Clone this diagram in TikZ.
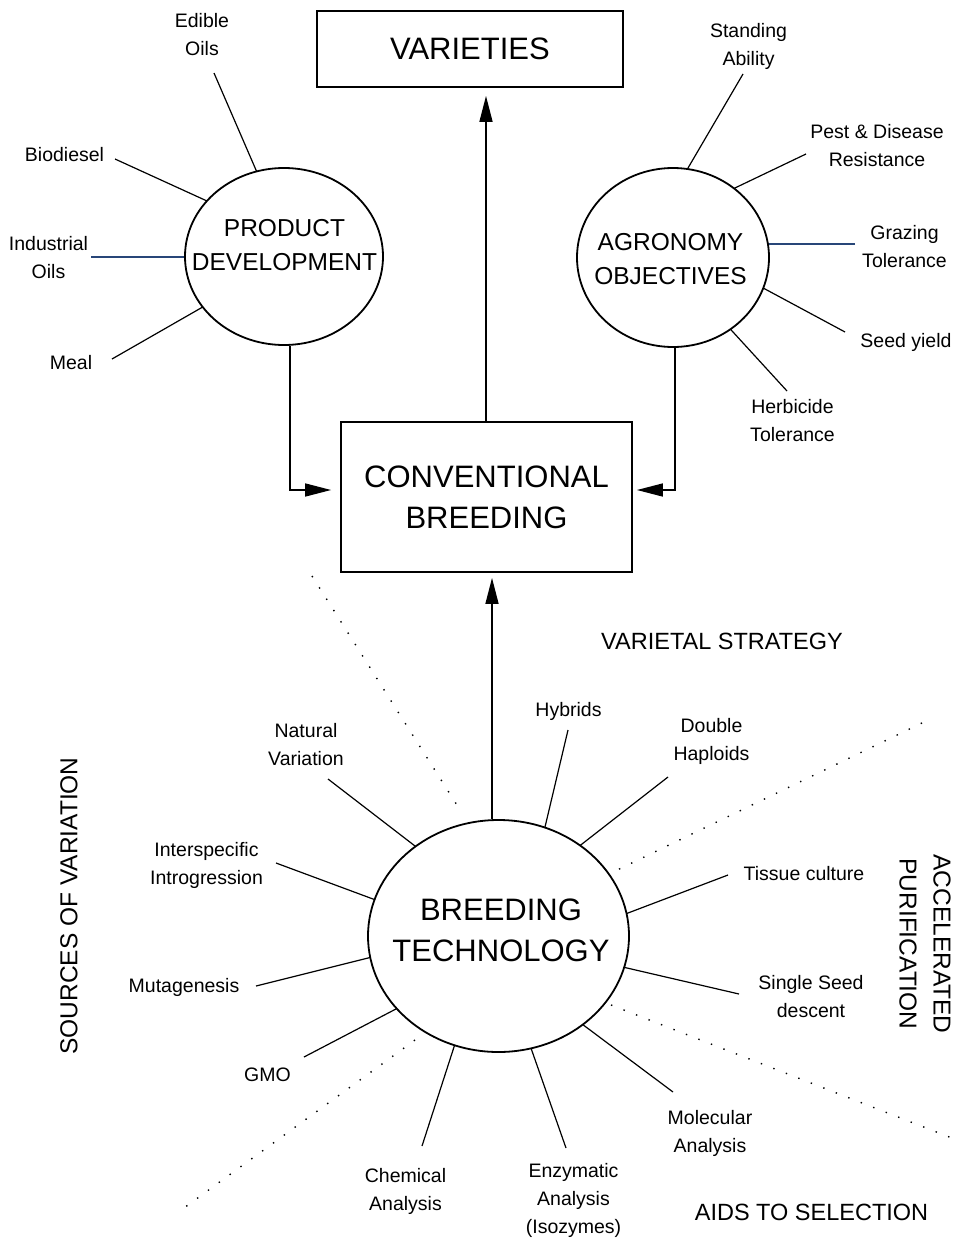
\documentclass[tikz,border=0pt]{standalone}
\usepackage{fontspec}
\setmainfont{Liberation Sans}
\usetikzlibrary{arrows.meta,shapes.geometric}
\definecolor{inkblue}{RGB}{40,70,120}
\begin{document}
\begin{tikzpicture}[x=1pt,y=-1pt,
  lbl/.style={align=center,inner sep=0pt,font=\fontsize{19.5}{28}\selectfont},
  cat/.style={inner sep=0pt,font=\fontsize{23.5}{34}\selectfont},
  side/.style={align=center,inner sep=0pt,font=\fontsize{24.5}{34}\selectfont},
  big/.style={align=center,inner sep=0pt,font=\fontsize{31}{41}\selectfont},
  midtxt/.style={align=center,inner sep=0pt,font=\fontsize{24.5}{34}\selectfont},
  boxnode/.style={draw,line width=1.8pt,inner sep=0pt,align=center,font=\fontsize{31}{41}\selectfont},
  ring/.style={ellipse,draw,line width=1.8pt,fill=white,inner sep=0pt},
  spoke/.style={line width=1.2pt,shorten >=-5pt},
  arr/.style={line width=1.5pt,-{Triangle[length=26pt,width=13pt]}},
  dots/.style={line width=1.4pt,dash pattern=on 1.4pt off 12pt},
]
\useasboundingbox (0,0) rectangle (959,1239);

% spoke end points
\coordinate (eo1) at (214,73);  \coordinate (ei1) at (256,170);
\coordinate (eo2) at (115,159); \coordinate (ei2) at (207,201);
\coordinate (eo3) at (91,257);  \coordinate (ei3) at (185,257);
\coordinate (eo4) at (112,359); \coordinate (ei4) at (201,308);
\coordinate (ao1) at (743,74);  \coordinate (ai1) at (688,168);
\coordinate (ao2) at (806,154); \coordinate (ai2) at (737,187);
\coordinate (ao3) at (855,244); \coordinate (ai3) at (769,244);
\coordinate (ao4) at (845,332); \coordinate (ai4) at (765,289);
\coordinate (ao5) at (787,391); \coordinate (ai5) at (733,332);
\coordinate (bo1) at (328,779); \coordinate (bi1) at (415,846);
\coordinate (bo2) at (276,863); \coordinate (bi2) at (373,899);
\coordinate (bo3) at (256,986); \coordinate (bi3) at (368,958);
\coordinate (bo4) at (304,1057);\coordinate (bi4) at (394,1010);
\coordinate (bo5) at (422,1146);\coordinate (bi5) at (454,1047);
\coordinate (bo6) at (566,1148);\coordinate (bi6) at (532,1051);
\coordinate (bo7) at (673,1092);\coordinate (bi7) at (586,1027);
\coordinate (bo8) at (739,994); \coordinate (bi8) at (627,968);
\coordinate (bo9) at (728,875); \coordinate (bi9) at (628,913);
\coordinate (bo10) at (668,777);\coordinate (bi10) at (582,844);
\coordinate (bo11) at (568,730);\coordinate (bi11) at (545,827);

\draw[spoke] (eo1) -- (ei1);
\draw[spoke] (eo2) -- (ei2);
\draw[spoke,inkblue] (eo3) -- (ei3);
\draw[spoke] (eo4) -- (ei4);
\draw[spoke] (ao1) -- (ai1);
\draw[spoke] (ao2) -- (ai2);
\draw[spoke,inkblue] (ao3) -- (ai3);
\draw[spoke] (ao4) -- (ai4);
\draw[spoke] (ao5) -- (ai5);
\foreach \i in {1,...,11} {\draw[spoke] (bo\i) -- (bi\i);}

% dotted separators
\coordinate (d1a) at (312,576); \coordinate (d1b) at (462,813);
\coordinate (d2a) at (922,723); \coordinate (d2b) at (611,873);
\coordinate (d3a) at (611,1005); \coordinate (d3b) at (957,1140);
\coordinate (d4a) at (415,1040); \coordinate (d4b) at (177,1213);
\draw[dots] (d1a) -- (d1b);
\draw[dots] (d2a) -- (d2b);
\draw[dots] (d3a) -- (d3b);
\draw[dots] (d4a) -- (d4b);

% main shapes
\node[boxnode,minimum width=306pt,minimum height=76pt] (var) at (470,49) {VARIETIES};
\node[boxnode,minimum width=291pt,minimum height=150pt] (cb) at (486.5,497) {CONVENTIONAL\\BREEDING};
\node[ring,minimum width=198pt,minimum height=177pt] (pd) at (284,256.5) {};
\node[ring,minimum width=192pt,minimum height=179pt] (ag) at (673,257.5) {};
\node[ring,minimum width=261pt,minimum height=232pt] (bt) at (498.5,936) {};
\node[midtxt] (pdt) at (284.5,245.5) {PRODUCT\\DEVELOPMENT};
\node[midtxt] (agt) at (670.5,259) {AGRONOMY\\OBJECTIVES};
\node[big] (btt) at (501,930.5) {BREEDING\\TECHNOLOGY};

% labels
\node[lbl] (l1) at (202,34.5) {Edible\\Oils};
\node[lbl] (l2) at (64.5,155) {Biodiesel};
\node[lbl] (l3) at (48.5,258) {Industrial\\Oils};
\node[lbl] (l4) at (71,363) {Meal};
\node[lbl] (l5) at (748.5,46) {Standing\\Ability};
\node[lbl] (l6) at (877,145.5) {Pest \& Disease\\Resistance};
\node[lbl] (l7) at (904.5,246.5) {Grazing\\Tolerance};
\node[lbl] (l8) at (906,342) {Seed yield};
\node[lbl] (l9) at (792.5,421) {Herbicide\\Tolerance};
\node[lbl] (l10) at (306,744.5) {Natural\\Variation};
\node[lbl] (l11) at (206.5,865.5) {Interspecific\\Introgression};
\node[lbl] (l12) at (184,987) {Mutagenesis};
\node[lbl] (l13) at (267.5,1075) {GMO};
\node[lbl] (l14) at (405.5,1191) {Chemical\\Analysis};
\node[lbl] (l15) at (573.5,1200) {Enzymatic\\Analysis\\(Isozymes)};
\node[lbl] (l16) at (710,1133) {Molecular\\Analysis};
\node[lbl] (l17) at (811,996.5) {Single Seed\\descent};
\node[lbl] (l18) at (804,874) {Tissue culture};
\node[lbl] (l19) at (711.5,741) {Double\\Haploids};
\node[lbl] (l20) at (568.5,711) {Hybrids};

\node[cat] (c1) at (722,641) {VARIETAL STRATEGY};
\node[cat] (c2) at (811.5,1212) {AIDS TO SELECTION};
\node[side,rotate=90] (c3) at (69,906) {SOURCES OF VARIATION};
\node[side,rotate=-90] (c4) at (925,944) {ACCELERATED\\PURIFICATION};

% connectors
\coordinate (lj) at (290,490);
\coordinate (rj) at (675,490);
\coordinate (vx) at (486,0);
\coordinate (bx) at (492,0);
\draw[arr,shorten >=9pt] (lj |- pd.south) -- (lj) -- (lj -| cb.west);
\draw[arr,shorten >=4pt] (rj |- ag.south) -- (rj) -- (rj -| cb.east);
\draw[arr,shorten >=8pt] (vx |- cb.north) -- (vx |- var.south);
\draw[arr,shorten >=5pt] (bx |- bt.north) -- (bx |- cb.south);
\end{tikzpicture}
\end{document}
